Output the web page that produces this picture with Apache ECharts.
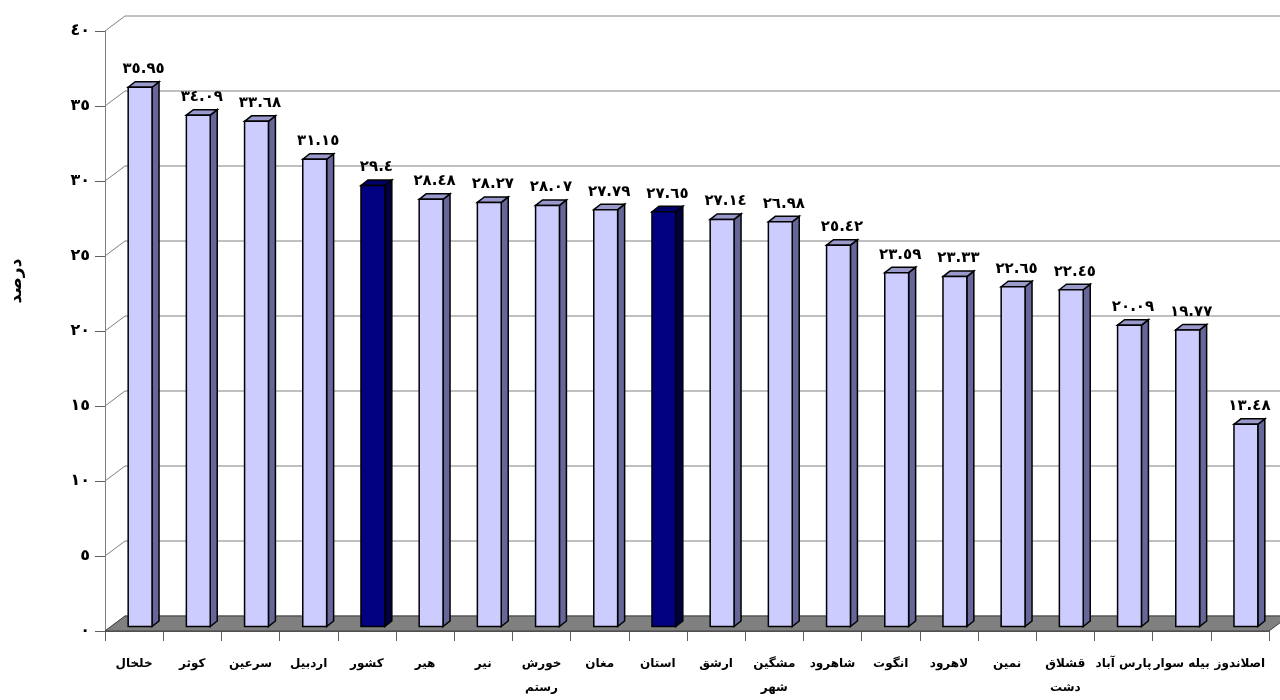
<!DOCTYPE html>
<html lang="fa">
<head>
<meta charset="UTF-8">
<title>درصد</title>
<script src="https://cdn.jsdelivr.net/npm/echarts@6/dist/echarts.min.js"></script>
<style>
    html, body { margin: 0; padding: 0; background: #fff; }
    #chart { width: 1280px; height: 700px; }
</style>
</head>
<body>
<div id="chart"></div>
<script>
    // data
    var categories = ['خلخال', 'کوثر', 'سرعین', 'اردبیل', 'کشور', 'هیر', 'نیر', 'خورش\nرستم', 'مغان', 'استان',
        'ارشق', 'مشگین\nشهر', 'شاهرود', 'انگوت', 'لاهرود', 'نمین', 'قشلاق\nدشت', 'پارس آباد', 'بیله سوار', 'اصلاندوز'];
    var values = [35.95, 34.09, 33.68, 31.15, 29.4, 28.48, 28.27, 28.07, 27.79, 27.65,
        27.14, 26.98, 25.42, 23.59, 23.33, 22.65, 22.45, 20.09, 19.77, 13.48];
    var highlighted = ['کشور', 'استان'];
    var yTicks = [0, 5, 10, 15, 20, 25, 30, 35, 40];

    // 3d look
    var DX = 20, DY = 15;          // depth of back wall
    var FONT = 'DejaVu Sans';

    function toAr(n) {
        var d = '٠١٢٣٤٥٦٧٨٩';
        return String(n).replace(/[0-9]/g, function (c) { return d[+c]; });
    }

    var chart = echarts.init(document.getElementById('chart'));

    function renderGrid(params, api) {
        var cs = params.coordSys;
        var y = api.coord([0, api.value(1)])[1];
        return {
            type: 'polyline',
            shape: { points: [[cs.x, y], [cs.x + DX, y - DY], [cs.x + cs.width + DX, y - DY]] },
            style: { stroke: '#808080', lineWidth: 1, fill: null }
        };
    }

    function renderFloor(params, api) {
        var cs = params.coordSys;
        var y = api.coord([0, 0])[1];
        return {
            type: 'polygon',
            shape: { points: [[cs.x, y], [cs.x + cs.width, y], [cs.x + cs.width + DX, y - DY], [cs.x + DX, y - DY]] },
            style: { fill: '#808080', stroke: '#404040', lineWidth: 1 }
        };
    }

    function renderBar(params, api) {
        var i = api.value(0), v = api.value(1);
        var base = api.coord([i, 0]);
        var top = api.coord([i, v]);
        var band = api.size([1, 0])[0];
        var w = band * 0.41;
        var cx = base[0] + DX * 0.3;
        var yb = base[1] - DY * 0.3, yt = top[1] - DY * 0.3;
        var L = cx - w / 2, R = cx + w / 2;
        var dx = 7, dy = 5.5;
        var dark = highlighted.indexOf(categories[i]) >= 0;
        var cFront = dark ? '#000080' : '#ccccff';
        var cSide = dark ? '#000040' : '#666699';
        var cTop = dark ? '#000066' : '#9999cc';
        var line = { stroke: '#000', lineWidth: 1.5, lineJoin: 'miter' };
        return {
            type: 'group',
            children: [
                { type: 'polygon', shape: { points: [[R, yt], [R + dx, yt - dy], [R + dx, yb - dy], [R, yb]] },
                    style: Object.assign({ fill: cSide }, line) },
                { type: 'polygon', shape: { points: [[L, yt], [L + dx, yt - dy], [R + dx, yt - dy], [R, yt]] },
                    style: Object.assign({ fill: cTop }, line) },
                { type: 'rect', shape: { x: L, y: yt, width: w, height: yb - yt },
                    style: Object.assign({ fill: cFront }, line) },
                { type: 'text', x: cx + dx / 2, y: yt - dy - 5,
                    style: { text: toAr(v), fill: '#000', font: 'bold 15px "' + FONT + '"', align: 'center', verticalAlign: 'bottom' } }
            ]
        };
    }

    var option = {
        animation: false,
        backgroundColor: '#fff',
        grid: { left: 105, right: 11, top: 31, bottom: 61 },
        xAxis: {
            type: 'category',
            data: categories,
            axisLine: { lineStyle: { color: '#606060', width: 1 } },
            axisTick: { show: true, length: 10, interval: 0, lineStyle: { color: '#606060' } },
            axisLabel: {
                interval: 0, margin: 21, color: '#000', fontFamily: FONT,
                fontSize: 12, fontWeight: 'bold', lineHeight: 24
            }
        },
        yAxis: {
            type: 'value',
            min: 0, max: 40, interval: 5,
            name: 'درصد',
            nameLocation: 'middle',
            nameRotate: 90,
            nameGap: 80,
            nameTextStyle: { color: '#000', fontFamily: FONT, fontSize: 17, fontWeight: 'bold', padding: [0, 0, 0, 100] },
            axisLine: { show: true, lineStyle: { color: '#808080', width: 1 } },
            axisTick: { show: true, length: 10, lineStyle: { color: '#606060' } },
            axisLabel: {
                margin: 15, color: '#000', fontFamily: FONT, fontSize: 16, fontWeight: 'bold',
                formatter: function (v) { return toAr(v); }
            },
            splitLine: { show: false }
        },
        series: [
            {
                type: 'custom', name: 'grid', z: 1, silent: true,
                renderItem: renderGrid,
                data: yTicks.map(function (t) { return [0, t]; })
            },
            {
                type: 'custom', name: 'floor', z: 2, silent: true,
                renderItem: renderFloor,
                data: [[0, 0]]
            },
            {
                type: 'custom', name: 'درصد', z: 3,
                renderItem: renderBar,
                encode: { x: 0, y: 1 },
                data: values.map(function (v, i) { return [i, v]; })
            }
        ]
    };

    chart.setOption(option);
</script>
</body>
</html>
